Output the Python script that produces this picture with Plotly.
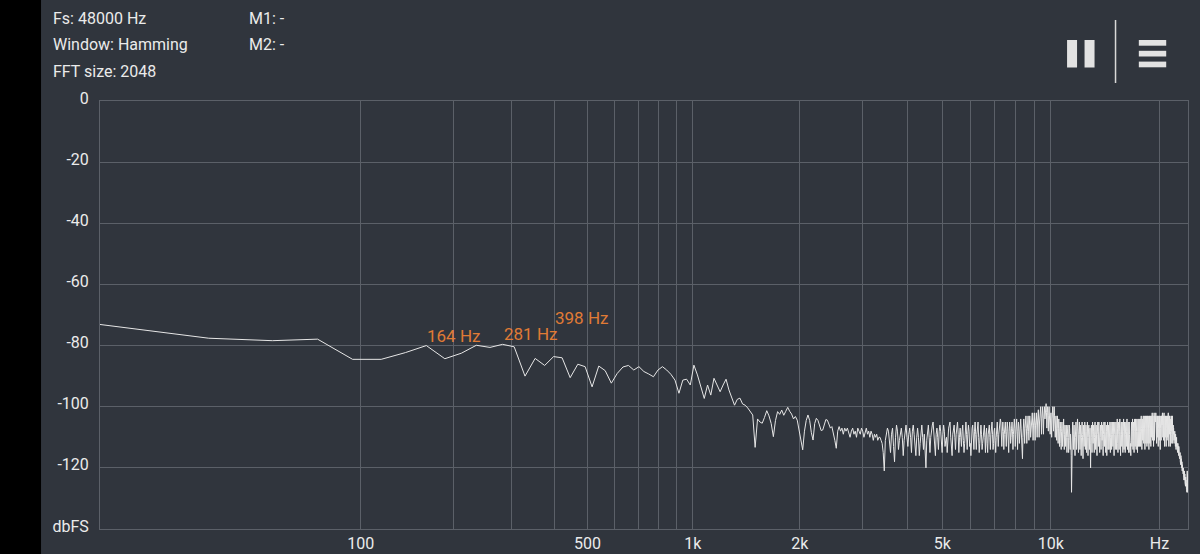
import math
import plotly.graph_objects as go

# ---------------- data ----------------
FS_HZ = 48000
FFT_SIZE = 2048
BIN_HZ = FS_HZ / FFT_SIZE  # 23.4375 Hz per bin

# magnitude (dBFS) of FFT bins 0..110
db_low = [
    -73.1, -77.6, -78.4, -77.9, -84.5, -84.5, -82.3, -80.0, -84.3, -82.5,
    -79.9, -80.6, -79.6, -80.4, -90.0, -84.2, -86.5, -83.6, -84.0, -90.5,
    -86.1, -86.9, -93.5, -86.7, -88.2, -92.3, -89.1, -87.0, -86.5, -88.0,
    -86.9, -88.5, -89.3, -90.2, -88.0, -86.9, -88.0, -89.4, -91.3, -95.6,
    -91.3, -91.0, -92.9, -86.4, -89.6, -93.5, -97.3, -92.9, -96.2, -90.7,
    -92.9, -95.1, -92.9, -91.0, -94.5, -97.2, -99.5, -97.6, -97.2, -99.1,
    -99.5, -100.4, -101.6, -102.7, -113.3, -104.0, -105.0, -105.4, -103.5, -101.3,
    -103.0, -105.5, -109.8, -104.5, -101.6, -102.5, -101.1, -102.8, -101.5, -100.2,
    -101.5, -102.4, -104.0, -103.2, -104.4, -107.5, -111.0, -114.1, -108.0, -104.5,
    -102.7, -104.5, -108.5, -110.9, -105.5, -103.8, -104.5, -106.0, -107.8, -107.6,
    -105.5, -104.2, -104.4, -105.8, -107.0, -106.5, -108.5, -111.0, -113.6, -108.0,
    -106.5,
]

# magnitude (dBFS) of FFT bins 111..1024 (noise floor)
db_high = [
    -108, -107, -109, -107, -108, -107, -109, -110, -108, -107, -109, -108, -110, -107, -108, -109, -107, -108, -110, -108,  # 111
    -107, -109, -108, -110, -108, -109, -111, -109, -110, -109, -111, -110, -110, -111, -112, -115, -121, -111, -108, -107,  # 131
    -108, -112, -115, -109, -107, -113, -118, -110, -106, -108, -114, -111, -108, -107, -110, -116, -111, -107, -106, -110,  # 151
    -113, -109, -107, -110, -115, -108, -106, -109, -113, -116, -110, -107, -110, -116, -112, -107, -106, -110, -114, -109,  # 171
    -114, -120, -111, -107, -106, -110, -115, -110, -107, -106, -105, -109, -113, -116, -109, -107, -110, -114, -108, -106,  # 191
    -108, -112, -115, -109, -106, -108, -113, -111, -110, -115, -109, -107, -106, -105, -110, -113, -116, -109, -107, -106,  # 211
    -110, -114, -109, -106, -105, -109, -115, -110, -107, -110, -113, -108, -106, -111, -115, -112, -107, -105, -109, -114,  # 231
    -109, -106, -108, -113, -112, -116, -110, -107, -106, -111, -114, -108, -105, -109, -114, -109, -106, -105, -110, -115,  # 251
    -112, -108, -106, -109, -114, -112, -109, -107, -106, -110, -115, -109, -107, -112, -115, -109, -107, -106, -110, -114,  # 271
    -109, -107, -105, -109, -114, -112, -108, -107, -111, -115, -110, -106, -105, -109, -113, -109, -106, -105, -104, -105,  # 291
    -108, -113, -108, -105, -108, -114, -109, -106, -105, -109, -113, -108, -105, -107, -111, -115, -108, -105, -107, -112,  # 311
    -110, -107, -105, -108, -114, -109, -106, -104, -107, -113, -109, -105, -104, -108, -114, -108, -105, -107, -112, -109,  # 331
    -106, -104, -107, -111, -113, -117, -110, -106, -104, -107, -112, -107, -104, -103, -107, -112, -108, -104, -103, -108,  # 351
    -111, -106, -103, -105, -110, -108, -105, -103, -102, -106, -111, -106, -103, -102, -106, -111, -106, -103, -102, -106,  # 371
    -110, -105, -102, -101, -105, -110, -105, -102, -101, -100, -104, -109, -104, -101, -100, -104, -109, -104, -101, -100,  # 391
    -104, -102, -100, -99, -102, -107, -102, -100, -103, -108, -103, -100, -102, -106, -109, -104, -102, -106, -110, -104,  # 411
    -101, -100, -104, -108, -102, -100, -103, -108, -110, -105, -103, -107, -111, -105, -103, -107, -112, -107, -104, -108,  # 431
    -113, -108, -105, -107, -112, -114, -108, -105, -107, -113, -108, -105, -104, -109, -114, -109, -106, -108, -113, -108,  # 451
    -106, -110, -115, -110, -107, -106, -110, -115, -110, -106, -107, -111, -114, -109, -112, -116, -128, -114, -108, -106,  # 471
    -105, -109, -114, -109, -106, -108, -112, -116, -110, -106, -105, -108, -114, -109, -106, -104, -107, -112, -115, -109,  # 491
    -106, -105, -109, -114, -109, -106, -110, -116, -110, -106, -105, -109, -112, -117, -110, -106, -108, -113, -108, -105,  # 511
    -108, -114, -109, -106, -108, -115, -110, -106, -105, -110, -116, -110, -107, -106, -110, -114, -109, -107, -114, -120,  # 531
    -112, -107, -106, -110, -115, -109, -105, -107, -112, -108, -106, -110, -115, -110, -106, -105, -109, -114, -109, -106,  # 551
    -108, -113, -116, -109, -106, -105, -109, -113, -108, -105, -107, -111, -115, -110, -107, -106, -110, -114, -108, -105,  # 571
    -106, -111, -109, -106, -113, -116, -109, -106, -105, -109, -113, -108, -105, -107, -112, -115, -109, -106, -108, -116,  # 591
    -110, -106, -105, -109, -114, -108, -106, -110, -114, -109, -106, -105, -109, -115, -110, -106, -105, -109, -114, -109,  # 611
    -106, -105, -109, -113, -108, -105, -107, -112, -116, -109, -106, -105, -109, -114, -109, -106, -105, -109, -114, -109,  # 631
    -106, -104, -107, -112, -115, -109, -106, -105, -109, -114, -108, -105, -104, -108, -113, -116, -109, -106, -105, -109,  # 651
    -113, -108, -105, -107, -111, -115, -108, -105, -104, -108, -114, -108, -105, -107, -110, -115, -109, -106, -105, -109,  # 671
    -113, -108, -105, -104, -108, -114, -109, -106, -105, -109, -115, -109, -106, -105, -109, -113, -115, -109, -112, -114,  # 691
    -116, -111, -107, -105, -108, -113, -108, -105, -104, -108, -114, -108, -105, -107, -111, -115, -108, -105, -104, -108,  # 711
    -113, -107, -104, -106, -110, -114, -108, -105, -104, -108, -112, -115, -108, -105, -104, -108, -113, -108, -105, -104,  # 731
    -108, -113, -108, -105, -104, -108, -113, -107, -104, -103, -107, -112, -114, -107, -104, -106, -111, -107, -104, -103,  # 751
    -107, -112, -107, -104, -103, -107, -112, -114, -107, -104, -103, -107, -112, -107, -104, -103, -107, -113, -107, -104,  # 771
    -103, -107, -112, -106, -103, -105, -109, -114, -107, -104, -103, -107, -112, -106, -103, -105, -110, -113, -106, -103,  # 791
    -105, -110, -106, -103, -102, -106, -111, -106, -103, -105, -109, -113, -106, -103, -102, -106, -111, -106, -103, -105,  # 811
    -109, -105, -103, -102, -103, -106, -110, -112, -106, -103, -105, -110, -106, -103, -105, -110, -113, -107, -104, -103,  # 831
    -107, -111, -106, -103, -105, -109, -112, -114, -107, -104, -103, -107, -111, -106, -103, -105, -110, -106, -103, -102,  # 851
    -106, -110, -106, -103, -105, -111, -106, -103, -102, -106, -110, -113, -106, -103, -105, -110, -106, -103, -105, -111,  # 871
    -113, -107, -104, -103, -107, -111, -106, -103, -105, -110, -106, -103, -102, -106, -110, -113, -106, -103, -105, -109,  # 891
    -106, -103, -105, -110, -113, -108, -105, -104, -108, -106, -103, -105, -109, -112, -107, -104, -103, -107, -110, -112,  # 911
    -108, -106, -109, -107, -110, -108, -111, -107, -109, -110, -108, -112, -109, -110, -113, -109, -111, -112, -114, -111,  # 931
    -112, -110, -113, -111, -112, -114, -112, -113, -115, -112, -114, -113, -115, -114, -116, -113, -115, -114, -116, -117,  # 951
    -115, -116, -117, -115, -118, -116, -117, -119, -116, -118, -117, -119, -118, -120, -118, -119, -121, -119, -120, -122,  # 971
    -120, -121, -122, -120, -123, -121, -122, -124, -122, -123, -121, -124, -123, -122, -125, -123, -124, -126, -123, -125,  # 991
    -124, -126, -125, -127, -125, -126, -128, -124, -121, -125, -127, -128, -122, -125,  # 1011
]

grid_hz = [100, 200, 300, 400, 500, 600, 700, 800, 900,
           1000, 2000, 3000, 4000, 5000, 6000, 7000, 8000, 9000, 10000, 20000]
labelled_hz = {100: "100", 500: "500", 1000: "1k", 2000: "2k", 5000: "5k", 10000: "10k", 20000: "Hz"}
y_ticks = [0, -20, -40, -60, -80, -100, -120, -140]
y_labels = ["0", "-20", "-40", "-60", "-80", "-100", "-120", "dbFS"]

peak_bins = [7, 12, 17]
peak_texts = ["164 Hz", "281 Hz", "398 Hz"]
peak_lift_px = [-2, -2, 27]

header_left = ["Fs: 48000 Hz", "Window: Hamming", "FFT size: 2048"]
header_right = ["M1: -", "M2: -"]

# ---------------- styling ----------------
BG = "#30353d"
GRID = "#5b6068"
TEXT = "#ebebeb"
TRACE = "#e6e6e6"
ORANGE = "#e07b35"
FONT = "Roboto"

W, H = 1200, 554
PX_L, PX_R, PX_T, PX_B = 100, 1188.5, 101, 529


def px(xp):
    return (xp - PX_L) / (PX_R - PX_L)


def py(yp):
    return (PX_B - yp) / (PX_B - PX_T)


db = db_low + db_high
freqs = [k * BIN_HZ for k in range(len(db))]
# the analyzer's frequency scale is logarithmic in (f + one bin)
xplot = [f + BIN_HZ for f in freqs]

fig = go.Figure()
fig.add_trace(go.Scatter(
    x=xplot, y=db, mode="lines",
    line=dict(color=TRACE, width=1.0),
    hoverinfo="skip", showlegend=False,
))

tickvals = [f + BIN_HZ for f in grid_hz]
ticktext = [labelled_hz.get(f, "") for f in grid_hz]

fig.update_xaxes(
    type="log",
    range=[math.log10(BIN_HZ), math.log10(FS_HZ / 2 + BIN_HZ)],
    tickmode="array", tickvals=tickvals, ticktext=ticktext,
    showgrid=True, gridcolor=GRID, gridwidth=1,
    showline=True, linecolor=GRID, linewidth=1, mirror=True,
    zeroline=False, ticks="", automargin=False,
    tickfont=dict(family=FONT, size=16, color=TEXT),
    ticklabelstandoff=0,
)
fig.update_yaxes(
    range=[-140, 0],
    tickmode="array", tickvals=y_ticks, ticktext=y_labels,
    showgrid=True, gridcolor=GRID, gridwidth=1,
    showline=True, linecolor=GRID, linewidth=1, mirror=True,
    zeroline=False, ticks="", automargin=False,
    tickfont=dict(family=FONT, size=16, color=TEXT),
    ticklabelstandoff=7,
    ticklabelshift=-3,
)

annotations = []
for b, t, lift in zip(peak_bins, peak_texts, peak_lift_px):
    annotations.append(dict(
        x=math.log10(freqs[b] + BIN_HZ), y=db[b], xref="x", yref="y",
        text=t, showarrow=False, xanchor="left", yanchor="bottom",
        yshift=lift, xshift=-1,
        font=dict(family=FONT, size=17, color=ORANGE),
    ))

for i, t in enumerate(header_left):
    annotations.append(dict(
        x=px(51), y=py(18 + i * 26.5), xref="paper", yref="paper",
        text=t, showarrow=False, xanchor="left", yanchor="middle",
        font=dict(family=FONT, size=16, color=TEXT),
    ))
for i, t in enumerate(header_right):
    annotations.append(dict(
        x=px(247), y=py(18 + i * 26.5), xref="paper", yref="paper",
        text=t, showarrow=False, xanchor="left", yanchor="middle",
        font=dict(family=FONT, size=16, color=TEXT),
    ))

shapes = []
# black strip on the left of the screen
shapes.append(dict(type="rect", xref="paper", yref="paper",
                   x0=px(-2), x1=px(41), y0=py(H + 2), y1=py(-2),
                   fillcolor="#000000", line=dict(width=0), layer="below"))
# pause icon
for x0, x1 in [(1067.5, 1077.5), (1085, 1095)]:
    shapes.append(dict(type="rect", xref="paper", yref="paper",
                       x0=px(x0), x1=px(x1), y0=py(67.5), y1=py(40),
                       fillcolor="#e2e2e2", line=dict(width=0)))
# divider
shapes.append(dict(type="line", xref="paper", yref="paper",
                   x0=px(1116), x1=px(1116), y0=py(83), y1=py(20),
                   line=dict(color="#d8d8d8", width=1.5)))
# menu icon
for y0, y1 in [(40, 45.7), (50.8, 56.5), (61.6, 67.3)]:
    shapes.append(dict(type="rect", xref="paper", yref="paper",
                       x0=px(1139.3), x1=px(1166.7), y0=py(y1), y1=py(y0),
                       fillcolor="#e2e2e2", line=dict(width=0)))

fig.update_layout(
    width=W, height=H, autosize=False,
    margin=dict(l=PX_L, r=W - PX_R, t=PX_T, b=H - PX_B, pad=0, autoexpand=False),
    paper_bgcolor=BG, plot_bgcolor=BG,
    annotations=annotations, shapes=shapes,
    showlegend=False,
    font=dict(family=FONT, color=TEXT),
)

fig.write_html(
    "out.html",
    config={"displayModeBar": False, "responsive": False},
    post_script="document.body.style.margin='0';document.body.style.overflow='hidden';document.body.style.background='#30353d';",
)
